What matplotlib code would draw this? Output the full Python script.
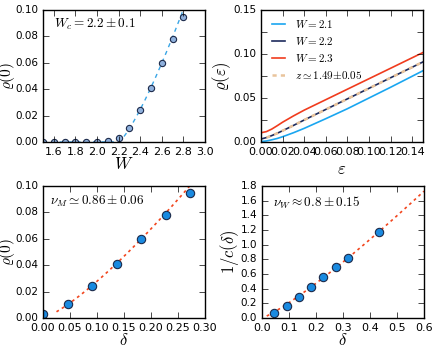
import numpy as np
import matplotlib
matplotlib.use("Agg")
import matplotlib.pyplot as plt
from matplotlib.ticker import MultipleLocator

plt.style.use("classic")
plt.rcParams["figure.facecolor"] = "white"
plt.rcParams["savefig.facecolor"] = "white"
plt.rcParams["mathtext.fontset"] = "cm"
plt.rcParams["xtick.labelsize"] = 8
plt.rcParams["ytick.labelsize"] = 7.5
plt.rcParams["xtick.major.pad"] = 3.5
plt.rcParams["ytick.major.pad"] = 3.5

# disorder scan: rho(0) vs W
W_vals = [1.5, 1.6, 1.7, 1.8, 1.9, 2.0, 2.1, 2.2, 2.3, 2.4, 2.5, 2.6, 2.7, 2.8]
rho0_W = [0.0002, 0.0002, 0.0002, 0.0002, 0.0002, 0.0003, 0.001, 0.003,
          0.0105, 0.024, 0.041, 0.060, 0.078, 0.095]

# rho(eps) for three disorder strengths
eps = [0.0, 0.005, 0.01, 0.015, 0.02, 0.03, 0.04, 0.06, 0.08, 0.10, 0.12, 0.15]
rho_W21 = [0.0005, 0.0012, 0.0025, 0.004, 0.006, 0.0105, 0.0155, 0.0265,
           0.0378, 0.050, 0.0622, 0.081]
rho_W22 = [0.0034, 0.005, 0.0073, 0.0099, 0.0128, 0.0188, 0.025, 0.037,
           0.049, 0.061, 0.073, 0.091]
rho_W23 = [0.0105, 0.0118, 0.0147, 0.0185, 0.0225, 0.0296, 0.0362, 0.0481,
           0.060, 0.0719, 0.0838, 0.1017]
fit_eps = [0.005, 0.01, 0.015, 0.02, 0.03, 0.04, 0.06, 0.08, 0.10, 0.12, 0.15]
fit_rho = [0.005, 0.0073, 0.0099, 0.0128, 0.0188, 0.025, 0.037, 0.049,
           0.061, 0.073, 0.091]

# scaling vs delta = (W - Wc)/Wc
delta_M = [0.0, 0.0455, 0.0909, 0.1364, 0.1818, 0.2273, 0.2727]
rho0_delta = [0.003, 0.0105, 0.024, 0.041, 0.060, 0.078, 0.095]
delta_W = [0.0455, 0.0909, 0.1364, 0.1818, 0.2273, 0.2727, 0.3182, 0.432]
inv_c = [0.07, 0.17, 0.28, 0.42, 0.56, 0.70, 0.82, 1.17]

# power-law fits
Wc = 2.2
fitM_amp, fitM_exp = 0.53, 1.28
fitW_amp, fitW_exp = 3.16, 1.18

fig = plt.figure(figsize=(4.36, 3.54), dpi=100)
w, h = 162 / 436, 132 / 354
ax1 = fig.add_axes([43 / 436, 1 - 142 / 354, w, h])
ax2 = fig.add_axes([261 / 436, 1 - 142 / 354, w, h])
ax3 = fig.add_axes([43 / 436, 1 - 318 / 354, w, h])
ax4 = fig.add_axes([262 / 436, 1 - 318 / 354, w, h])

# top left
Wg = np.linspace(1.5, 3.0, 300)
dg = np.clip((Wg - Wc) / Wc, 0, None)
ax1.plot(Wg, fitM_amp * dg ** fitM_exp, "--", color="#3aa6e6", lw=1, dashes=(3, 3))
ax1.plot(W_vals, rho0_W, "o", ms=4.5, mfc="#8eb0dc", mec="#1c2a4a", mew=0.8)
ax1.set_xlim(1.5, 3.0)
ax1.set_ylim(0, 0.1)
ax1.set_xticks(np.arange(1.6, 3.01, 0.2))
ax1.set_yticks(np.arange(0, 0.101, 0.02))
ax1.set_xlabel(r"$W$", fontsize=12, labelpad=-1)
ax1.set_ylabel(r"$\varrho(0)$", fontsize=11)
ax1.yaxis.set_label_coords(-0.163, 0.5)
ax1.text(0.07, 0.89, r"$W_c = 2.2 \pm 0.1$", transform=ax1.transAxes,
         fontsize=9.5, va="center")

# top right
ax2.plot(eps, rho_W21, color="#1aa6f0", lw=1.2, label=r"$W{=}2.1$")
ax2.plot(eps, rho_W22, color="#1c2a5c", lw=1.2, label=r"$W{=}2.2$")
ax2.plot(eps, rho_W23, color="#f03c1e", lw=1.2, label=r"$W{=}2.3$")
ax2.plot(fit_eps, fit_rho, "--", color="#e9c49c", lw=1.8, dashes=(3, 3),
         label=r"$z{\simeq}1.49{\pm}0.05$")
ax2.set_xlim(0, 0.15)
ax2.set_ylim(0, 0.15)
ax2.set_xticks(np.arange(0, 0.141, 0.02))
ax2.set_yticks([0, 0.05, 0.10, 0.15])
ax2.yaxis.set_minor_locator(MultipleLocator(0.025))
ax2.tick_params(which="minor", length=4)
ax2.set_xlabel(r"$\varepsilon$", fontsize=12, labelpad=2)
ax2.set_ylabel(r"$\varrho(\varepsilon)$", fontsize=12, labelpad=0)
ax2.legend(loc="upper left", frameon=False, fontsize=8, handlelength=1.8,
           handletextpad=0.6, labelspacing=0.45, borderaxespad=0.3)

# bottom left
dM = np.linspace(0.025, 0.3, 200)
ax3.plot(dM, fitM_amp * dM ** fitM_exp, "--", color="#f2461e", lw=1.2, dashes=(2, 2.5))
ax3.plot(delta_M, rho0_delta, "o", ms=6, mfc="#1a8ae0", mec="#1c2a4a", mew=0.8)
ax3.set_xlim(0, 0.3)
ax3.set_ylim(0, 0.1)
ax3.set_xticks(np.arange(0, 0.301, 0.05))
ax3.set_yticks(np.arange(0, 0.101, 0.02))
ax3.set_xlabel(r"$\delta$", fontsize=12, labelpad=-1)
ax3.set_ylabel(r"$\varrho(0)$", fontsize=11)
ax3.yaxis.set_label_coords(-0.163, 0.5)
ax3.text(0.045, 0.88, r"$\nu_M \simeq 0.86 \pm 0.06$", transform=ax3.transAxes,
         fontsize=9.5, va="center")

# bottom right
dW = np.linspace(0.0175, 0.6, 200)
ax4.plot(dW, fitW_amp * dW ** fitW_exp, "--", color="#f2461e", lw=1.2, dashes=(2, 2.5))
ax4.plot(delta_W, inv_c, "o", ms=6, mfc="#1a8ae0", mec="#1c2a4a", mew=0.8)
ax4.set_xlim(0, 0.6)
ax4.set_ylim(0, 1.8)
ax4.set_xticks(np.arange(0, 0.61, 0.1))
ax4.set_yticks(np.arange(0, 1.81, 0.2))
ax4.set_xlabel(r"$\delta$", fontsize=12, labelpad=-1)
ax4.set_ylabel(r"$1/c(\delta)$", fontsize=12, labelpad=0)
ax4.text(0.07, 0.87, r"$\nu_W \approx 0.8 \pm 0.15$", transform=ax4.transAxes,
         fontsize=9.5, va="center")

fig.savefig("out.png", dpi=100)
